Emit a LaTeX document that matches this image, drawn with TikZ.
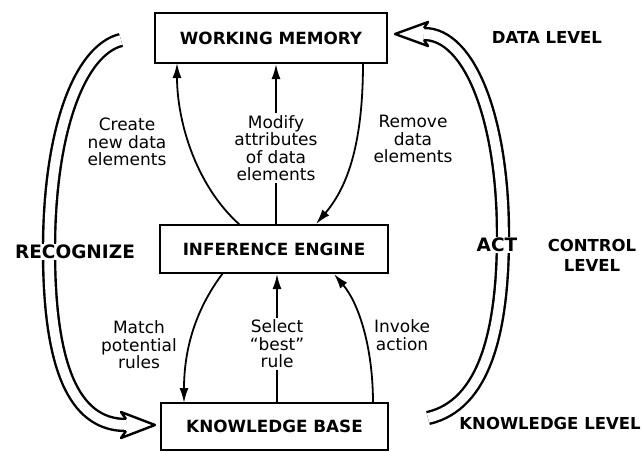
\documentclass[tikz,border=0pt]{standalone}
\usepackage{fontspec}
\setmainfont{DejaVu Sans}
\usetikzlibrary{arrows.meta}
\begin{document}
\begin{tikzpicture}[x=1pt,y=-1pt,
  box/.style={draw,line width=2.2pt,inner sep=0pt,font=\bfseries\fontsize{16.8}{19}\selectfont},
  lbl/.style={align=center,font=\fontsize{17}{17.5}\selectfont,inner sep=2pt},
  wlbl/.style={lbl,fill=white},
  arr/.style={line width=1.8pt,-{Latex[length=15pt,width=9pt]}},
  plain/.style={line width=1.8pt},
  dbl/.style={line width=2.4pt,double=white,double distance=9.6pt},
  head/.style={line width=2.4pt,line join=round},
  lev/.style={align=center,font=\bfseries\fontsize{16.5}{20}\selectfont},
  big/.style={fill=white,inner sep=1pt,font=\bfseries\fontsize{18.5}{20}\selectfont}
]
\useasboundingbox (0,0) rectangle (643,451);
% boxes
\node[box,minimum width=232pt,minimum height=50pt] (wm) at (271,38) {WORKING MEMORY};
\node[box,minimum width=228pt,minimum height=48pt] (ie) at (274,249) {INFERENCE ENGINE};
\node[box,minimum width=227pt,minimum height=47pt] (kb) at (274.5,426.5) {KNOWLEDGE BASE};
% attachment points
\coordinate (c1) at (240,225);
\coordinate (c2) at (177,63);
\coordinate (r1) at (363,63);
\coordinate (r2) at (316,224);
\coordinate (m1) at (223,273);
\coordinate (m2) at (184,403);
\coordinate (v1) at (373,403);
\coordinate (v2) at (334,274);
% labels
\node[lbl] (create) at (127,142) {Create\\new data\\elements};
\node[wlbl] (modify) at (276,148) {Modify\\attributes\\of data\\elements};
\node[lbl] (remove) at (413,139) {Remove\\data\\elements};
\node[lbl] (match) at (139,345) {Match\\potential\\rules};
\node[wlbl] (select) at (277,344) {Select\\``best''\\rule};
\node[lbl] (invoke) at (402,335) {Invoke\\action};
% thin arrows
\draw[arr] (c1) .. controls (195,185) and (177,120) .. (c2);
\draw[plain] (ie.north -| modify) -- (modify.south);
\draw[arr] (modify.north) -- (wm.south -| modify);
\draw[arr] (r1) .. controls (363,150) and (345,190) .. (r2);
\draw[arr] (m1) .. controls (195,310) and (184,350) .. (m2);
\draw[plain] (kb.north -| select) -- (select.south);
\draw[arr] (select.north) -- (ie.south -| select);
\draw[arr] (v1) .. controls (373,350) and (360,305) .. (v2);
% double arrows
\coordinate (ls) at (121,40);
\coordinate (lm) at (49,250);
\coordinate (le) at (126,425);
\draw[dbl] (ls) .. controls (80,50) and (49,130) .. (lm) .. controls (49,380) and (80,425) .. (le);
\draw[head] (126,419) -- (121,412) -- (155,425) -- (121,438) -- (126,431);
\coordinate (rs) at (428,418);
\coordinate (rm) at (503,235);
\coordinate (re) at (424,34);
\draw[dbl] (rs) .. controls (485,405) and (503,330) .. (rm) .. controls (503,120) and (470,34) .. (re);
\draw[head] (424,28) -- (428,22) -- (395,34) -- (428,46) -- (424,40);
\node[big] (recog) at (75,252) {RECOGNIZE};
\node[big] (act) at (497,245) {ACT};
% level labels
\node[lev] (dl) at (547,37) {DATA LEVEL};
\node[lev] (cl) at (592,255) {CONTROL\\LEVEL};
\node[lev] (kl) at (550,423) {KNOWLEDGE LEVEL};
\end{tikzpicture}
\end{document}
